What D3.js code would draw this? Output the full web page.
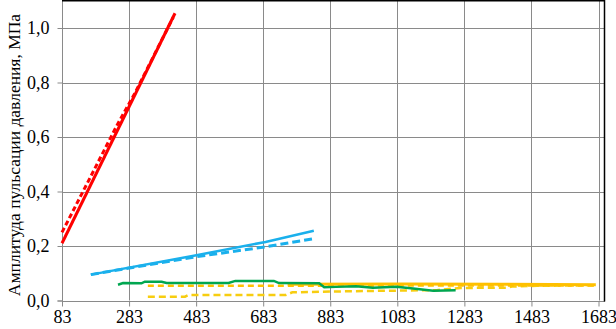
<!DOCTYPE html>
<html>
<head>
<meta charset="utf-8">
<script src="https://cdn.jsdelivr.net/npm/d3@7"></script>
<style>
  html, body { margin: 0; padding: 0; background: #fff; }
  svg { display: block; }
</style>
</head>
<body>
<div id="chart"></div>
<script>
// ticks
const xTicks = [83, 283, 483, 683, 883, 1083, 1283, 1483, 1683];
const yTicks = [0, 0.2, 0.4, 0.6, 0.8, 1.0];

// series, [x, amplitude]
const redSolid = [[83, 0.21], [420, 1.054]];
const redDashed = [[83, 0.25], [250, 0.65], [300, 0.76], [415, 1.04]];
const blueSolid = [[169, 0.095], [480, 0.165], [690, 0.215], [834, 0.256]];
const blueDashed = [[169, 0.095], [480, 0.16], [690, 0.197], [840, 0.228]];
const greenSolid = [[250, 0.058], [265, 0.064], [320, 0.063], [330, 0.069], [380, 0.069],
  [395, 0.064], [580, 0.064], [600, 0.072], [715, 0.072], [730, 0.064], [850, 0.063],
  [865, 0.049], [900, 0.05], [960, 0.052], [1010, 0.047], [1080, 0.05], [1130, 0.044],
  [1190, 0.036], [1257, 0.038]];
const yellowSolid = [[756, 0.06], [1100, 0.061], [1400, 0.06], [1675, 0.058]];
const yellowDashedUp = [[339, 0.054], [760, 0.054], [1200, 0.055], [1675, 0.055]];
const yellowDashedLow = [[339, 0.014], [450, 0.014], [460, 0.02], [750, 0.02], [770, 0.03],
  [900, 0.033], [1000, 0.035], [1200, 0.038], [1272, 0.046], [1410, 0.047], [1425, 0.051],
  [1500, 0.054], [1675, 0.056]];

const yLabel = "Амплитуда пульсации давления, МПа";

const width = 616, height = 329;
const mLeft = 62, mRight = 598.5, mTop = 0.75, mBottom = 300.5;
const serif = '"Liberation Serif", "Times New Roman", serif';

const x = d3.scaleLinear().domain([83, 1683]).range([mLeft, mRight]);
const y = d3.scaleLinear().domain([0, 1.1]).range([mBottom, mTop]);

const svg = d3.select("#chart").append("svg")
  .attr("width", width)
  .attr("height", height);

// grid
svg.append("g").selectAll("line")
  .data(yTicks.slice(1))
  .join("line")
  .attr("x1", mLeft).attr("x2", 605)
  .attr("y1", d => Math.round(y(d)) + 0.5).attr("y2", d => Math.round(y(d)) + 0.5)
  .attr("stroke", "#8a8a8a").attr("stroke-width", 1);

svg.append("g").selectAll("line")
  .data(xTicks.slice(1))
  .join("line")
  .attr("x1", d => Math.round(x(d)) + 0.5).attr("x2", d => Math.round(x(d)) + 0.5)
  .attr("y1", 0).attr("y2", mBottom)
  .attr("stroke", "#8a8a8a").attr("stroke-width", 1);

// axes
const xAxis = svg.append("g")
  .attr("transform", `translate(0,${Math.round(mBottom) + 0.5})`)
  .call(d3.axisBottom(x).tickValues(xTicks).tickSize(5).tickPadding(4).tickFormat(d => d));
const yAxis = svg.append("g")
  .attr("transform", `translate(${mLeft + 0.5},0)`)
  .call(d3.axisLeft(y).tickValues(yTicks).tickSize(5).tickPadding(8)
    .tickFormat(d => d3.format(".1f")(d).replace(".", ",")));

[xAxis, yAxis].forEach(g => {
  g.attr("font-family", serif).attr("font-size", 18);
  g.select(".domain").attr("stroke", "#8a8a8a");
  g.selectAll(".tick line").attr("stroke", "#8a8a8a");
  g.selectAll("text")
    .attr("fill", "#000")
    .attr("font-family", serif)
    .attr("font-size", 18)
    .style("font-family", serif)
    .style("font-size", "18px");
});
yAxis.select(".domain").attr("d", `M-5,${Math.round(mBottom)}H0V0`);
xAxis.select(".domain").attr("d", `M${mLeft},0H605`);

// frame top / right
svg.append("path")
  .attr("d", `M${mLeft},0.75H604.5V${Math.round(mBottom) + 0.5}`)
  .attr("fill", "none").attr("stroke", "#000").attr("stroke-width", 1.5);

// lines
const line = d3.line().x(d => x(d[0])).y(d => y(d[1]));
const series = [
  { data: yellowDashedLow, color: "#f7cd10", dash: "7,4", w: 2.5 },
  { data: yellowDashedUp, color: "#ffc000", dash: "6,4", w: 2.5 },
  { data: yellowSolid, color: "#ffc000", dash: null, w: 3 },
  { data: greenSolid, color: "#00a650", dash: null, w: 2.5 },
  { data: blueDashed, color: "#1ab0ec", dash: "8,4", w: 3 },
  { data: blueSolid, color: "#1ab0ec", dash: null, w: 2.5 },
  { data: redSolid, color: "#ff0000", dash: null, w: 3 },
  { data: redDashed, color: "#ff0000", dash: "5,3", w: 3 }
];

svg.append("g").selectAll("path")
  .data(series)
  .join("path")
  .attr("d", d => line(d.data))
  .attr("fill", "none")
  .attr("stroke", d => d.color)
  .attr("stroke-width", d => d.w)
  .attr("stroke-dasharray", d => d.dash);

// y label
svg.append("text")
  .attr("transform", "translate(20,155) rotate(-90)")
  .attr("text-anchor", "middle")
  .attr("font-family", serif)
  .attr("font-size", 17.5)
  .attr("fill", "#000")
  .text(yLabel);
</script>
</body>
</html>
